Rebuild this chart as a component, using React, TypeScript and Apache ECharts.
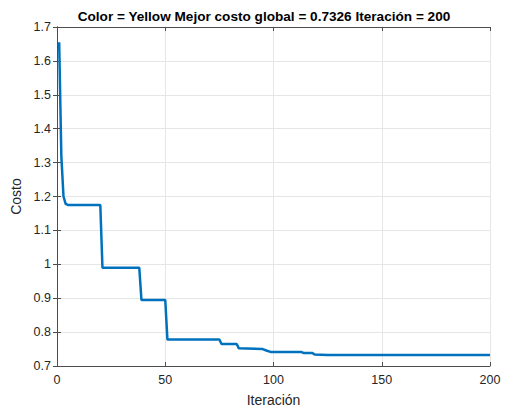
import React, { useEffect, useRef } from "react";
import * as echarts from "echarts";

const iterations = [1, 2, 3, 4, 5, 20, 21, 38, 39, 50, 51, 75, 76, 83, 84, 95, 97, 99, 113, 114, 118, 119, 125, 200];
const costs = [1.655, 1.32, 1.2, 1.178, 1.175, 1.175, 0.99, 0.99, 0.895, 0.895, 0.778, 0.778, 0.765, 0.765, 0.752, 0.75, 0.745, 0.741, 0.741, 0.738, 0.738, 0.734, 0.7326, 0.7326];
const titleText = "Color = Yellow Mejor costo global = 0.7326 Iteración = 200";
const xName = "Iteración";
const yName = "Costo";

export default function App() {
  const ref = useRef<HTMLDivElement>(null);
  useEffect(() => {
    if (!ref.current) return;
    const chart = echarts.init(ref.current, undefined, { renderer: "svg" });
    const font = "Liberation Sans, Arial, sans-serif";
    const axisColor = "#4d4d4d";
    const gridLine = { show: true, lineStyle: { color: "#e6e6e6", width: 1 } };
    chart.setOption({
      animation: false,
      backgroundColor: "#ffffff",
      title: {
        text: titleText,
        left: 259,
        top: 4,
        textAlign: "center",
        textStyle: { fontFamily: font, fontSize: 13.6, fontWeight: "bold", color: "#000" },
      },
      grid: { left: 57, right: 15, top: 27, bottom: 45, containLabel: false },
      xAxis: [
        {
          type: "value",
          min: 0,
          max: 200,
          interval: 50,
          name: xName,
          nameLocation: "middle",
          nameGap: 27,
          nameTextStyle: { fontFamily: font, fontSize: 14, color: "#262626" },
          axisLine: { show: true, lineStyle: { color: axisColor } },
          axisTick: { show: true, inside: true, length: 4, lineStyle: { color: axisColor } },
          axisLabel: { fontFamily: font, fontSize: 12.5, color: "#262626", margin: 7 },
          splitLine: gridLine,
        },
        {
          type: "value",
          position: "top",
          min: 0,
          max: 200,
          interval: 50,
          axisLine: { show: true, lineStyle: { color: axisColor } },
          axisTick: { show: true, inside: true, length: 4, lineStyle: { color: axisColor } },
          axisLabel: { show: false },
          splitLine: { show: false },
        },
      ],
      yAxis: [
        {
          type: "value",
          min: 0.7,
          max: 1.7,
          interval: 0.1,
          name: yName,
          nameLocation: "middle",
          nameGap: 27,
          nameTextStyle: { fontFamily: font, fontSize: 14, color: "#262626" },
          axisLine: { show: true, lineStyle: { color: axisColor } },
          axisTick: { show: true, inside: true, length: 4, lineStyle: { color: axisColor } },
          axisLabel: {
            fontFamily: font,
            fontSize: 12.5,
            color: "#262626",
            margin: 6,
            formatter: (v: number) => String(Math.round(v * 10) / 10),
          },
          splitLine: gridLine,
        },
        {
          type: "value",
          position: "right",
          min: 0.7,
          max: 1.7,
          interval: 0.1,
          axisLine: { show: true, lineStyle: { color: axisColor } },
          axisTick: { show: true, inside: true, length: 4, lineStyle: { color: axisColor } },
          axisLabel: { show: false },
          splitLine: { show: false },
        },
      ],
      series: [
        {
          type: "line",
          xAxisIndex: 0,
          yAxisIndex: 0,
          data: iterations.map((it, i) => [it, costs[i]]),
          showSymbol: false,
          lineStyle: { color: "#0072BD", width: 2.5 },
          itemStyle: { color: "#0072BD" },
        },
      ],
    });
    return () => chart.dispose();
  }, []);
  return <div ref={ref} style={{ width: 505, height: 412, position: "absolute", left: 0, top: 0 }} />;
}
